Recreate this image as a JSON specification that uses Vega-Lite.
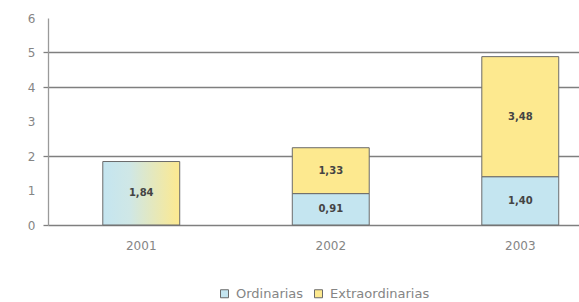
{
  "$schema": "https://vega.github.io/schema/vega-lite/v6.json",
  "autosize": "none",
  "width": 531,
  "height": 207,
  "padding": {"left": 48, "top": 18, "right": 0, "bottom": 77},
  "background": "white",
  "config": {
    "view": {"stroke": null},
    "locale": {"number": {"decimal": ",", "thousands": ".", "grouping": [3], "currency": ["", " €"]}},
    "font": "DejaVu Sans",
    "axisY": {
      "labelOverlap": false,
      "labelFlush": false,
      "grid": true,
      "gridColor": "#7f7f7f",
      "gridWidth": 1.3,
      "gridOpacity": {"condition": {"test": "datum.value == 1 || datum.value == 3 || datum.value == 6", "value": 0}, "value": 1},
      "tickOpacity": {"condition": {"test": "datum.value == 1 || datum.value == 3 || datum.value == 6", "value": 0}, "value": 1},
      "tickColor": "#7f7f7f",
      "tickSize": 5,
      "tickWidth": 1.3,
      "domainColor": "#9a9a9a",
      "domainWidth": 1.3,
      "labelPadding": 8,
      "labelFont": "DejaVu Sans",
      "labelFontSize": 12,
      "labelColor": "#858585"
    }
  },
  "data": {
    "values": [
      {"anio": "2001", "tipo": "Total", "v": 1.84},
      {"anio": "2002", "tipo": "Ordinarias", "v": 0.91},
      {"anio": "2002", "tipo": "Extraordinarias", "v": 1.33},
      {"anio": "2003", "tipo": "Ordinarias", "v": 1.40},
      {"anio": "2003", "tipo": "Extraordinarias", "v": 3.48}
    ]
  },
  "transform": [
    {"stack": "v", "groupby": ["anio"], "sort": [{"field": "tipo", "order": "descending"}], "as": ["v0", "v1"]},
    {"calculate": "(datum.v0 + datum.v1) / 2", "as": "mid"}
  ],
  "encoding": {
    "x": {
      "field": "anio",
      "type": "nominal",
      "scale": {"paddingInner": 0.594, "paddingOuter": 0.198, "align": 0.73},
      "axis": {
        "title": null,
        "labelAngle": 0,
        "domain": false,
        "ticks": false,
        "labelPadding": 15,
        "labelFont": "DejaVu Sans",
        "labelFontSize": 12,
        "labelColor": "#858585"
      }
    }
  },
  "layer": [
    {
      "transform": [{"filter": "datum.tipo != 'Total'"}],
      "mark": {"type": "bar", "stroke": "#6a6a6a", "strokeWidth": 1},
      "encoding": {
        "y": {
          "field": "v0",
          "type": "quantitative",
          "scale": {"domain": [0, 6], "nice": false},
          "axis": {"title": null, "values": [0, 1, 2, 3, 4, 5, 6]}
        },
        "y2": {"field": "v1"},
        "color": {
          "field": "tipo",
          "type": "nominal",
          "scale": {"domain": ["Ordinarias", "Extraordinarias"], "range": ["#c4e5f0", "#fde98f"]},
          "legend": {
            "title": null,
            "orient": "none",
            "legendX": 170,
            "legendY": 269,
            "direction": "horizontal",
            "symbolType": "square",
            "symbolSize": 64,
            "symbolStrokeColor": "#6a6a6a",
            "symbolStrokeWidth": 1,
            "symbolOpacity": 1,
            "labelFont": "DejaVu Sans",
            "labelFontSize": 13,
            "labelColor": "#858585",
            "labelOffset": 5,
            "columnPadding": 8
          }
        }
      }
    },
    {
      "transform": [{"filter": "datum.tipo == 'Total'"}],
      "mark": {
        "type": "bar",
        "stroke": "#6a6a6a",
        "strokeWidth": 1,
        "color": {
          "gradient": "linear",
          "x1": 0, "y1": 0, "x2": 1, "y2": 0,
          "stops": [
            {"offset": 0, "color": "#c4e5f0"},
            {"offset": 0.35, "color": "#cfe7e6"},
            {"offset": 1, "color": "#fde98f"}
          ]
        }
      },
      "encoding": {
        "y": {"field": "v0", "type": "quantitative", "axis": {"title": null, "values": [0, 1, 2, 3, 4, 5, 6]}},
        "y2": {"field": "v1"}
      }
    },
    {
      "mark": {"type": "text", "font": "DejaVu Sans", "fontSize": 10, "fontWeight": "bold", "color": "#444444"},
      "encoding": {
        "y": {"field": "mid", "type": "quantitative", "axis": {"title": null, "values": [0, 1, 2, 3, 4, 5, 6]}},
        "text": {"field": "v", "type": "quantitative", "format": ".2f"}
      }
    }
  ]
}
